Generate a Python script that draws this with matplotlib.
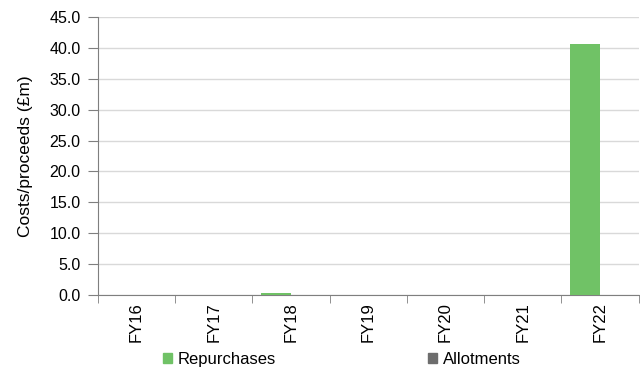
import matplotlib
matplotlib.use("Agg")
import matplotlib.pyplot as plt
import numpy as np
from matplotlib.patches import Patch

plt.rcParams['font.family'] = ['Liberation Sans', 'DejaVu Sans']

categories = ["FY16", "FY17", "FY18", "FY19", "FY20", "FY21", "FY22"]
repurchases = [0.0, 0.0, 0.3, 0.0, 0.0, 0.0, 40.7]
allotments = [0.0, 0.0, 0.0, 0.0, 0.0, 0.0, 0.0]

green = "#70c266"
grey = "#6d6d6d"

fig = plt.figure(figsize=(6.4, 3.69), dpi=100)
ax = fig.add_axes([0.153, 0.2005, 0.845, 0.7535])

x = np.arange(len(categories))
w = 0.385
ax.bar(x - w/2, repurchases, w, color=green, zorder=3)
ax.bar(x + w/2, allotments, w, color=grey, zorder=3)

ax.set_xlim(-0.5, len(categories) - 0.5)
ax.set_ylim(0, 45)
yt = np.arange(0, 45.1, 5)
ax.set_yticks(yt)
ax.set_yticklabels([f"{v:.1f}" for v in yt], fontsize=11.5)
ax.yaxis.grid(True, color="#d9d9d9", linewidth=1, zorder=0)
ax.set_axisbelow(True)

ax.set_xticks(x)
ax.set_xticklabels(categories, rotation=90, fontsize=12)
ax.tick_params(axis='x', length=0, pad=5)
ax.set_xticks(np.arange(-0.5, len(categories), 1), minor=True)
ax.tick_params(axis='x', which='minor', length=5.5, color="#7f7f7f", direction='out')
ax.tick_params(axis='y', length=7.5, color="#7f7f7f", direction='out', pad=5)

for s in ["top", "right"]:
    ax.spines[s].set_visible(False)
for s in ["left", "bottom"]:
    ax.spines[s].set_color("#7f7f7f")

ax.set_ylabel("Costs/proceeds (£m)", fontsize=12.5, labelpad=12)

handles = [Patch(color=green, label="Repurchases"), Patch(color=grey, label="Allotments")]
fig.legend(handles=handles, loc="lower center", bbox_to_anchor=(0.534, -0.035), ncol=2,
           frameon=False, fontsize=12, handlelength=0.55, handleheight=0.55,
           handletextpad=0.35, columnspacing=9.1)

fig.savefig("out.png", dpi=100)
